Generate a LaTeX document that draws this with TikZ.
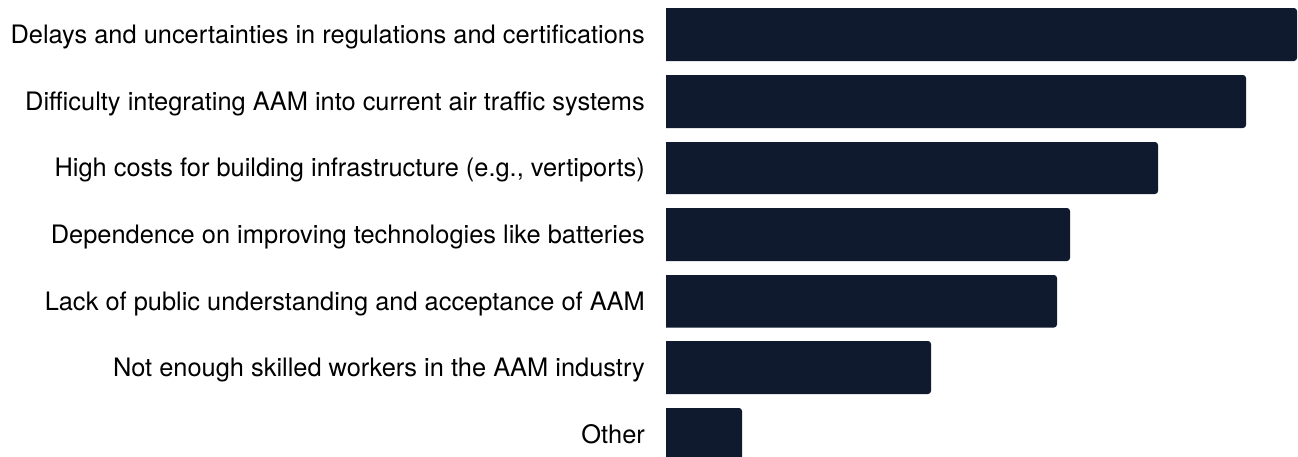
\documentclass[tikz,border=0pt]{standalone}
\usepackage{fontspec}
\setmainfont{TeX Gyre Heros}
\definecolor{barnavy}{HTML}{0F1A2E}

\begin{document}
\begin{tikzpicture}
	[x=1pt,y=-1pt,
	label node/.style={anchor=base east,inner sep=0pt,font=\fontsize{25.4}{30}\selectfont},
	bar/.style={fill=barnavy}]
	\useasboundingbox (0,0) rectangle (1298,456);
	
	\node [label node] (l1) at (645,43) {Delays and uncertainties in regulations and certifications};
	\node [label node] (l2) at (645,110) {Difficulty integrating AAM into current air traffic systems};
	\node [label node] (l3) at (645,176.5) {High costs for building infrastructure (e.g., vertiports)};
	\node [label node] (l4) at (645,243) {Dependence on improving technologies like batteries};
	\node [label node] (l5) at (645,310) {Lack of public understanding and acceptance of AAM};
	\node [label node] (l6) at (645,376) {Not enough skilled workers in the AAM industry};
	\node [label node] (l7) at (645,443) {Other};
	
	\path[bar] (666,61) -- (666,8) [rounded corners=3] -- (1297,8) -- (1297,61) [sharp corners] -- cycle;
	\path[bar] (666,128) -- (666,75) [rounded corners=3] -- (1246,75) -- (1246,128) [sharp corners] -- cycle;
	\path[bar] (666,194) -- (666,142) [rounded corners=3] -- (1158,142) -- (1158,194) [sharp corners] -- cycle;
	\path[bar] (666,261) -- (666,208) [rounded corners=3] -- (1070,208) -- (1070,261) [sharp corners] -- cycle;
	\path[bar] (666,327.5) -- (666,275) [rounded corners=3] -- (1057,275) -- (1057,327.5) [sharp corners] -- cycle;
	\path[bar] (666,394) -- (666,341) [rounded corners=3] -- (931,341) -- (931,394) [sharp corners] -- cycle;
	\path[bar] (666,461) -- (666,408) [rounded corners=3] -- (742,408) -- (742,461) [sharp corners] -- cycle;
	
\end{tikzpicture}
\end{document}
